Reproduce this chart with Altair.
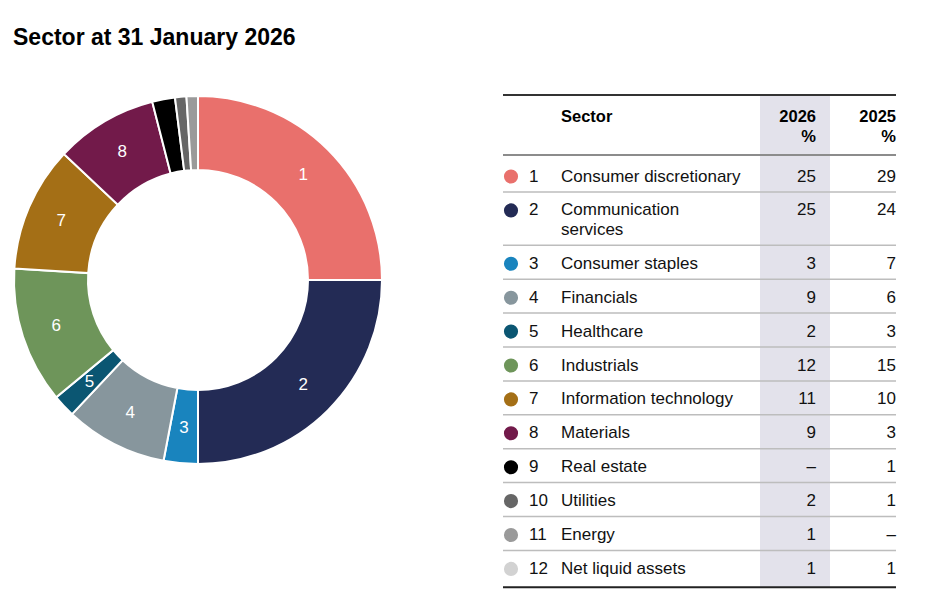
import altair as alt
import pandas as pd

FONT = "Liberation Sans"

# ---- data ----
ids = [str(i) for i in range(1, 13)]
sectors = ["Consumer discretionary", "Communication\nservices", "Consumer staples",
           "Financials", "Healthcare", "Industrials", "Information technology",
           "Materials", "Real estate", "Utilities", "Energy", "Net liquid assets"]
pct_2026 = ["25", "25", "3", "9", "2", "12", "11", "9", "–", "2", "1", "1"]
pct_2025 = ["29", "24", "7", "6", "3", "15", "10", "3", "1", "1", "–", "1"]
colors = ["#E9706C", "#232B55", "#1984BE", "#87969D", "#0B5672", "#6E955A",
          "#A46F16", "#721A4A", "#000000", "#666666", "#9A9A9A", "#D2D2D2"]

donut_values = [25, 25, 3, 9, 2, 12, 11, 9, 2, 1, 1]
donut_labels = ["1", "2", "3", "4", "5", "6", "7", "8", "", "", ""]
donut_colors = ["#E9706C", "#232B55", "#1984BE", "#87969D", "#0B5672", "#6E955A",
                "#A46F16", "#721A4A", "#000000", "#666666", "#9A9A9A"]

header_left = ["Sector"]
header_right = ["2026\n%", "2025\n%"]

# ---- layout (pixels in plot area) ----
W, H = 930, 530
CX, CY, R_OUT, R_IN = 190, 220, 184, 110
T_LEFT, T_RIGHT = 495, 888
X_DOT, X_NUM, X_NAME, X_26, X_25 = 503, 521, 553, 808, 888
SHADE_X0, SHADE_X1 = 752, 822
TOP_RULE, HEAD_RULE = 35, 95
ROW_H, LINE_H = 33.9, 19.5

n_lines = [s.count("\n") + 1 for s in sectors]
tops, text_y, rule_y = [], [], []
y = HEAD_RULE
for i, n in enumerate(n_lines):
    first = 3 if i == 0 else 0
    tops.append(y)
    text_y.append(y + 18.5 + first)
    y += ROW_H + LINE_H * (n - 1) + first
    if i < len(n_lines) - 1:
        rule_y.append(y)
BOTTOM_RULE = y + 3

table = pd.DataFrame({"id": ids, "name": sectors, "p26": pct_2026, "p25": pct_2025,
                      "ty": text_y})
rules = pd.DataFrame({"ry": rule_y})
donut = pd.DataFrame({"i": list(range(len(donut_values))), "v": donut_values,
                      "lab": donut_labels, "key": [f"k{i}" for i in range(len(donut_values))]})

xs = alt.Scale(domain=[0, W], range=[0, W], nice=False, zero=False)
ys = alt.Scale(domain=[0, H], range=[0, H], nice=False, zero=False)

one = pd.DataFrame({"a": [0]})

shade = alt.Chart(one).mark_rect(color="#E3E2EB").encode(
    x=alt.value(SHADE_X0), x2=alt.value(SHADE_X1),
    y=alt.value(TOP_RULE), y2=alt.value(BOTTOM_RULE))

top_rule = alt.Chart(one).mark_rule(color="#333333", strokeWidth=2).encode(
    x=alt.value(T_LEFT), x2=alt.value(T_RIGHT), y=alt.value(TOP_RULE))
head_rule = alt.Chart(one).mark_rule(color="#8C8C8C", strokeWidth=2).encode(
    x=alt.value(T_LEFT), x2=alt.value(T_RIGHT), y=alt.value(HEAD_RULE))
bot_rule = alt.Chart(one).mark_rule(color="#222222", strokeWidth=2).encode(
    x=alt.value(T_LEFT), x2=alt.value(T_RIGHT), y=alt.value(BOTTOM_RULE))
row_rules = alt.Chart(rules).mark_rule(color="#BDBDBD", strokeWidth=1.5).encode(
    x=alt.value(T_LEFT), x2=alt.value(T_RIGHT),
    y=alt.Y("ry:Q", scale=ys, axis=None))

hl = alt.Chart(pd.DataFrame({"t": header_left})).mark_text(
    font=FONT, fontSize=16.5, fontWeight="bold", align="left", baseline="middle",
    color="#000").encode(x=alt.value(X_NAME), y=alt.value(57), text="t:N")
hr = alt.Chart(pd.DataFrame({"t": header_right, "hx": [X_26, X_25]})).mark_text(
    font=FONT, fontSize=16.5, fontWeight="bold", align="right", baseline="middle",
    lineBreak="\n", lineHeight=20, color="#000").encode(
    x=alt.X("hx:Q", scale=xs, axis=None), y=alt.value(57), text="t:N")

base = alt.Chart(table)
ty = alt.Y("ty:Q", scale=ys, axis=None)
dots = base.mark_point(filled=True, size=200, opacity=1, shape="circle").encode(
    x=alt.value(X_DOT), y=ty,
    color=alt.Color("id:N", scale=alt.Scale(domain=ids, range=colors), legend=None))
txt = dict(font=FONT, fontSize=17, baseline="middle", color="#111111",
           lineBreak="\n", lineHeight=20)
nums = base.mark_text(align="left", **txt).encode(x=alt.value(X_NUM), y=ty, text="id:N")
names = base.mark_text(align="left", **txt).encode(x=alt.value(X_NAME), y=ty, text="name:N")
v26 = base.mark_text(align="right", **txt).encode(x=alt.value(X_26), y=ty, text="p26:N")
v25 = base.mark_text(align="right", **txt).encode(x=alt.value(X_25), y=ty, text="p25:N")

arcs = alt.Chart(donut).mark_arc(radius=R_OUT, radius2=R_IN, stroke="white",
                                 strokeWidth=2).encode(
    theta=alt.Theta("v:Q", stack=True),
    order=alt.Order("i:Q"),
    color=alt.Color("key:N", scale=alt.Scale(domain=list(donut["key"]), range=donut_colors),
                    legend=None),
    x=alt.value(CX), y=alt.value(CY))
arc_labels = alt.Chart(donut).mark_text(radius=(R_OUT + R_IN) / 2 + 2, font=FONT, fontSize=17,
                                        color="white", align="center",
                                        baseline="middle").encode(
    theta=alt.Theta("v:Q", stack=True),
    order=alt.Order("i:Q"),
    detail="key:N",
    text="lab:N",
    x=alt.value(CX), y=alt.value(CY))

chart = alt.layer(
    shade, top_rule, head_rule, row_rules, bot_rule, hl, hr,
    dots, nums, names, v26, v25, arcs, arc_labels
).resolve_scale(color="independent").properties(
    width=W, height=H,
    autosize=alt.AutoSizeParams(type="none"),
    padding={"top": 52, "left": 0, "right": 0, "bottom": 0},
    title=alt.TitleParams("Sector at 31 January 2026", anchor="start", frame="group",
                          font=FONT, fontSize=23, fontWeight="bold", color="#000000",
                          dx=5, offset=10),
).configure_view(stroke=None)

chart.save("out.html", embed_options={"renderer": "svg", "actions": False})
